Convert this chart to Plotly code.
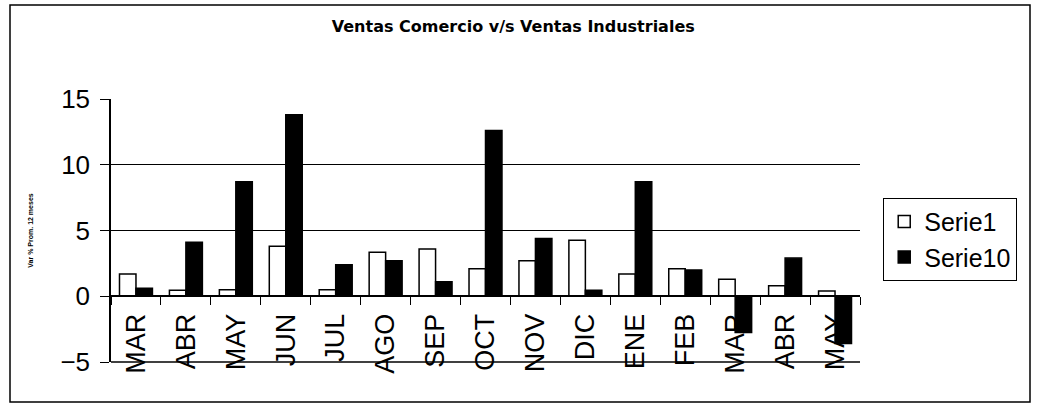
import plotly.graph_objects as go

months = ["MAR", "ABR", "MAY", "JUN", "JUL", "AGO", "SEP", "OCT", "NOV", "DIC",
          "ENE", "FEB", "MAR ", "ABR ", "MAY "]
serie1 = [1.7, 0.45, 0.5, 3.8, 0.5, 3.35, 3.6, 2.1, 2.7, 4.25, 1.7, 2.1, 1.3, 0.8, 0.4]
serie10 = [0.6, 4.1, 8.7, 13.8, 2.4, 2.7, 1.1, 12.6, 4.4, 0.45, 8.7, 2.0, -2.75, 2.9, -3.6]
tick_text = ["MAR", "ABR", "MAY", "JUN", "JUL", "AGO", "SEP", "OCT", "NOV", "DIC",
             "ENE", "FEB", "MAR", "ABR", "MAY"]
title = "Ventas Comercio v/s Ventas Industriales"
y_title = "Var % Prom. 12 meses"

fig = go.Figure()
fig.add_trace(go.Bar(x=months, y=serie1, name="Serie1",
                     marker=dict(color="white", line=dict(color="black", width=1.5))))
fig.add_trace(go.Bar(x=months, y=serie10, name="Serie10",
                     marker=dict(color="black", line=dict(color="black", width=1.5))))

fig.update_layout(
    width=1039, height=409,
    margin=dict(l=111, r=179, t=99, b=47),
    paper_bgcolor="white", plot_bgcolor="white",
    barmode="group", bargap=0.34, bargroupgap=0,
    font=dict(family="Arial, Liberation Sans", color="black"),
    title=dict(text="<b>" + title + "</b>", x=0.494, xanchor="center", y=0.935, yanchor="middle",
               font=dict(size=16, family="DejaVu Sans")),
    legend=dict(x=1.031, y=0.625, xanchor="left", yanchor="top",
                bordercolor="black", borderwidth=1, bgcolor="white",
                font=dict(size=25), tracegroupgap=4),
    showlegend=True,
)

fig.update_xaxes(
    type="category", categoryorder="array", categoryarray=months,
    tickvals=months, ticktext=tick_text,
    tickangle=-90, tickfont=dict(size=27),
    anchor="free", position=0.25,
    showline=True, linecolor="black", linewidth=1.5,
    ticks="outside", tickson="boundaries", ticklen=8, tickcolor="black",
    ticklabelstandoff=6,
    showgrid=False, zeroline=False,
)
fig.update_yaxes(
    range=[-5, 15], tickvals=[-5, 0, 5, 10, 15],
    tickfont=dict(size=26),
    showline=True, linecolor="black", linewidth=1.5,
    ticks="outside", ticklen=9, tickcolor="black",
    ticklabelstandoff=5,
    showgrid=True, gridcolor="black", gridwidth=1,
    zeroline=False,
    title=dict(text="<b>" + y_title + "</b>", font=dict(size=7), standoff=26),
)

# bottom border of plot area
fig.add_shape(type="line", xref="paper", yref="paper", x0=0, x1=1, y0=0, y1=0,
              line=dict(color="black", width=1.5))
# outer chart frame
fig.add_shape(type="rect", xref="paper", yref="paper",
              x0=(10 - 111) / 749, x1=(1030 - 111) / 749,
              y0=(362 - 402) / 263, y1=(362 - 5) / 263,
              line=dict(color="black", width=1.5), fillcolor="rgba(0,0,0,0)")

fig.write_html("out.html", config={"displayModeBar": False},
               post_script="document.body.style.margin='0';")
